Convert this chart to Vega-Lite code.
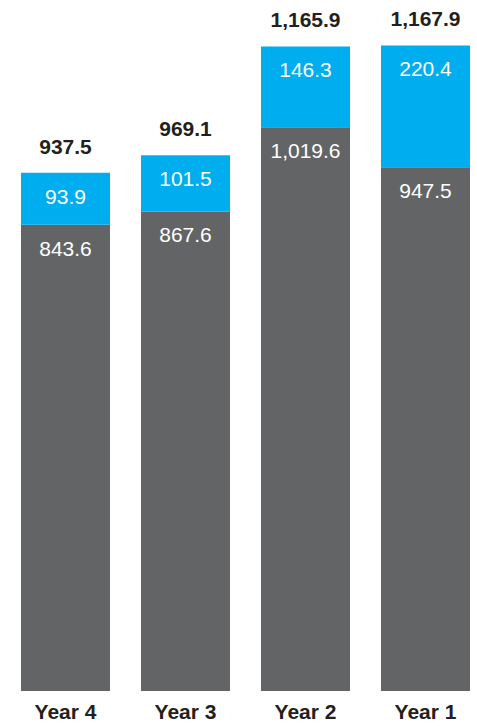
{
  "$schema": "https://vega.github.io/schema/vega-lite/v6.json",
  "width": 477,
  "height": 691,
  "autosize": {"type": "none"},
  "padding": {"top": 0, "left": 0, "right": 0, "bottom": 35},
  "background": "white",
  "config": {"view": {"stroke": null}, "font": "Liberation Sans"},
  "data": {
    "values": [
      {"year": "Year 4", "segment": "base", "order": 1, "value": 843.6},
      {"year": "Year 4", "segment": "top", "order": 2, "value": 93.9},
      {"year": "Year 3", "segment": "base", "order": 1, "value": 867.6},
      {"year": "Year 3", "segment": "top", "order": 2, "value": 101.5},
      {"year": "Year 2", "segment": "base", "order": 1, "value": 1019.6},
      {"year": "Year 2", "segment": "top", "order": 2, "value": 146.3},
      {"year": "Year 1", "segment": "base", "order": 1, "value": 947.5},
      {"year": "Year 1", "segment": "top", "order": 2, "value": 220.4}
    ]
  },
  "transform": [
    {"stack": "value", "groupby": ["year"], "sort": [{"field": "order"}], "as": ["v0", "v1"]},
    {"joinaggregate": [{"op": "sum", "field": "value", "as": "total"}], "groupby": ["year"]}
  ],
  "encoding": {
    "x": {
      "field": "year",
      "type": "nominal",
      "sort": ["Year 4", "Year 3", "Year 2", "Year 1"],
      "scale": {"paddingInner": 0.2583, "paddingOuter": 0.1167, "align": 0.75},
      "axis": {
        "title": null,
        "domain": false,
        "ticks": false,
        "labelAngle": 0,
        "labelFont": "Liberation Sans",
        "labelFontWeight": "bold",
        "labelFontSize": 21,
        "labelColor": "#231f20",
        "labelPadding": 10
      }
    }
  },
  "layer": [
    {
      "mark": {"type": "bar"},
      "encoding": {
        "y": {"field": "v0", "type": "quantitative", "scale": {"domain": [0, 1250], "nice": false}, "axis": null},
        "y2": {"field": "v1"},
        "color": {
          "field": "segment",
          "type": "nominal",
          "scale": {"domain": ["base", "top"], "range": ["#636466", "#00aeef"]},
          "legend": null
        }
      }
    },
    {
      "mark": {"type": "text", "color": "white", "fontSize": 21, "baseline": "middle", "dy": 25},
      "encoding": {
        "y": {"field": "v1", "type": "quantitative"},
        "text": {"field": "value", "type": "quantitative", "format": ",.1f"}
      }
    },
    {
      "transform": [{"filter": "datum.segment === 'top'"}],
      "mark": {"type": "text", "color": "#231f20", "fontSize": 21, "fontWeight": "bold", "baseline": "middle", "dy": -25},
      "encoding": {
        "y": {"field": "total", "type": "quantitative"},
        "text": {"field": "total", "type": "quantitative", "format": ",.1f"}
      }
    }
  ]
}
